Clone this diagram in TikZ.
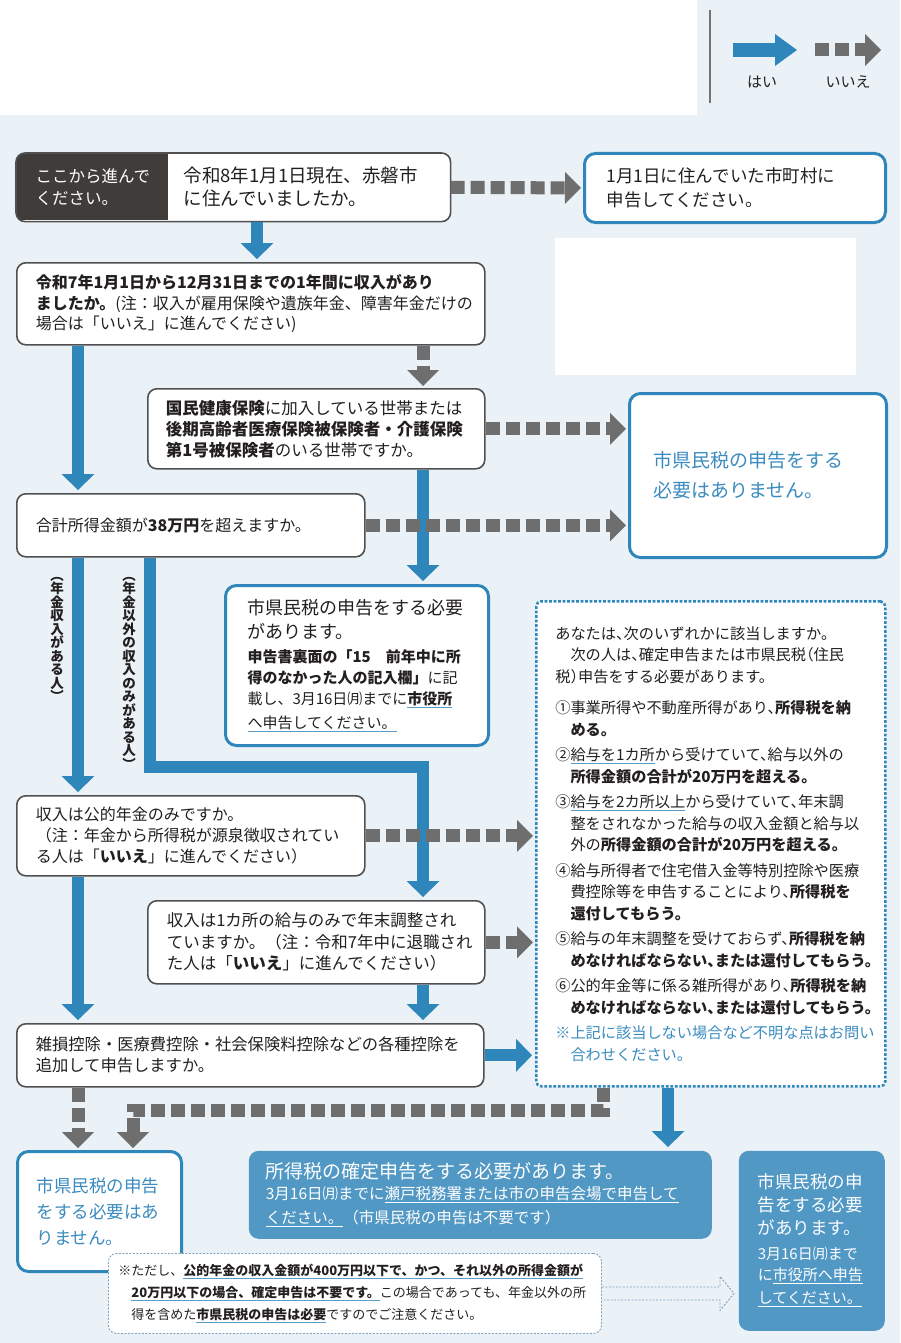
\documentclass[tikz,border=0pt]{standalone}
\usepackage{fontspec}
\setmainfont{Noto Sans CJK JP}
\newfontfamily\haltfont[CharacterWidth=AlternateHalf]{Noto Sans CJK JP}
\usetikzlibrary{arrows.meta,calc,positioning}
\definecolor{bgblue}{RGB}{234,242,247}
\definecolor{yesblue}{RGB}{46,134,186}
\definecolor{nogray}{RGB}{110,110,110}
\definecolor{boxgray}{RGB}{80,80,80}
\definecolor{darkbox}{RGB}{64,60,58}
\definecolor{fillblue}{RGB}{82,152,196}
\definecolor{textblue}{RGB}{58,139,191}
\definecolor{inkblack}{RGB}{35,31,32}
\definecolor{ulblue}{RGB}{91,155,200}
\definecolor{notegray}{RGB}{130,160,185}
\newcommand{\fsz}[2]{\fontsize{#1}{#2}\selectfont}
\newsavebox{\ulbox}
\newcommand{\bul}[2][ulblue]{\leavevmode\sbox{\ulbox}{#2}\rlap{\color{#1}\rule[-3.5pt]{\wd\ulbox}{1.1pt}}\usebox{\ulbox}}
\tikzstyle{qbox} = [draw=boxgray, fill=white, line width=1.6pt, rounded corners=9pt, anchor=north west, align=left, inner xsep=19pt, inner ysep=2pt, text=inkblack]
\tikzstyle{bluebox} = [qbox, draw=yesblue, line width=3pt, rounded corners=11pt]
\tikzstyle{fillbox} = [qbox, draw=none, fill=fillblue, text=white, rounded corners=10pt]
\tikzstyle{infobox} = [qbox, draw=yesblue, line width=2.6pt, dash pattern=on 2.6pt off 1.9pt, rounded corners=5pt]
\tikzstyle{notebox} = [qbox, draw=notegray, line width=0.9pt, dash pattern=on 2pt off 1.5pt, rounded corners=8pt, inner xsep=10pt]
\tikzstyle{yesarrow} = [draw=yesblue, line width=12pt, -{Triangle[width=33pt,length=16pt,line width=0pt]}, shorten >=3pt]
\tikzstyle{noarrow} = [draw=nogray, line width=13pt, dash pattern=on 14pt off 6pt, -{Triangle[width=32pt,length=16pt,line width=0pt]}, shorten >=2pt]
\tikzstyle{vlabel} = [anchor=north, align=center, inner sep=0pt, font=\fsz{13.5}{13.5}\bfseries, text=inkblack]
\tikzstyle{notearrow} = [draw=notegray, line width=0.9pt, dash pattern=on 2pt off 1.5pt]
\begin{document}
\begin{tikzpicture}[x=1pt,y=-1pt]
\fill[bgblue] (0,0) rectangle (900,1343);
\useasboundingbox (0,0) rectangle (900,1343);
\fill[white] (0,0) rectangle (697,115);
\fill[white] (555,238) rectangle (856,375);
\draw[boxgray!80, line width=1.5pt] (710,10) -- (710,103);
\coordinate (lgYa) at (733,50);
\coordinate (lgYb) at (797,50);
\coordinate (lgNa) at (815,50);
\coordinate (lgNb) at (881,50);
\draw[yesarrow, line width=14pt, shorten >=0pt, -{Triangle[width=32pt,length=22pt,line width=0pt]}] (lgYa) -- (lgYb);
\draw[noarrow, shorten >=0pt] (lgNa) -- (lgNb);
\node[font=\fsz{15}{18}, text=inkblack] (lgYes) at (762,82) {はい};
\node[font=\fsz{15}{18}, text=inkblack] (lgNo) at (848,82) {いいえ};

\node[qbox, draw=none, text width=395pt, minimum height=67pt] (q1) at (16,153) {};
\begin{scope}
\clip[rounded corners=9pt] (q1.north west) rectangle (q1.south east);
\fill[darkbox] (q1.north west) rectangle (168,220);
\end{scope}
\draw[boxgray, line width=1.6pt, rounded corners=9pt] (q1.north west) rectangle (q1.south east);
\node[anchor=west, align=left, text=white, font=\fsz{16.5}{22}] (go) at ($(q1.west)+(16,0)$) {ここから進んで\\ください。};
\node[anchor=west, align=left, text=inkblack, font=\fsz{18.5}{23}] (q1t) at (180,186.5) {令和8年1月1日現在、赤磐市\\に住んでいましたか。};
\node[bluebox, text width=257pt, minimum height=69pt, inner xsep=22pt, font=\fsz{17.5}{24}] (r1) at (583,152) {1月1日に住んでいた市町村に\\申告してください。};
\node[qbox, text width=430pt, minimum height=82pt, font=\fsz{16}{20.5}] (q2) at (16,262) {\textbf{令和7年1月1日から12月31日までの1年間に収入があり}\\\textbf{ましたか。}(注：収入が雇用保険や遺族年金、障害年金だけの\\場合は「いいえ」に進んでください)};
\node[qbox, text width=301pt, minimum height=80pt, inner xsep=18pt, font=\fsz{16.5}{21}] (q3) at (147,388) {\textbf{国民健康保険}に加入している世帯または\\\textbf{後期高齢者医療保険被保険者・介護保険}\\\textbf{第1号被保険者}のいる世帯ですか。};
\node[bluebox, text width=209pt, minimum height=164pt, inner xsep=24pt, text=textblue, font=\fsz{19}{30}] (n1) at (628,392) {市県民税の申告をする\\必要はありません。};
\node[qbox, text width=310pt, minimum height=63pt, font=\fsz{16}{21}] (q4) at (16,493) {合計所得金額が\textbf{38万円}を超えますか。};
\node[vlabel] (lab1) at (57,577) {︵\\年\\金\\収\\入\\が\\あ\\る\\人\\︶};
\node[vlabel] (lab2) at (129,577) {︵\\年\\金\\以\\外\\の\\収\\入\\の\\み\\が\\あ\\る\\人\\︶};
\node[bluebox, text width=219pt, minimum height=160pt, inner xsep=22pt, font=\fsz{18}{24}] (y1) at (224,584) {市県民税の申告をする必要\\があります。\par\vspace{3pt}\fsz{15}{21}\textbf{申告書裏面の「15　前年中に所}\\\textbf{得のなかった人の記入欄」}に記\\載し、3月16日㈪までに\bul{\textbf{市役所}}\\\bul{へ申告してください。}};
\node[qbox, text width=310pt, minimum height=80pt, font=\fsz{16}{21}] (q5) at (16,795) {収入は公的年金のみですか。\\（注：年金から所得税が源泉徴収されてい\\る人は「\textbf{いいえ}」に進んでください）};
\node[qbox, text width=299pt, minimum height=83pt, font=\fsz{16.5}{21.5}] (q6) at (147,900) {収入は1カ所の給与のみで年末調整され\\ていますか。（注：令和7年中に退職され\\た人は「\textbf{いいえ}」に進んでください）};
\node[qbox, text width=429pt, minimum height=63pt, font=\fsz{16.3}{21}] (q7) at (16,1023) {雑損控除・医療費控除・社会保険料控除などの各種控除を\\追加して申告しますか。};
\node[infobox, text width=311pt, minimum height=485pt, font=\haltfont\fsz{15.2}{21.5}] (info) at (535,600) {あなたは、次のいずれかに該当しますか。\\　次の人は、確定申告または市県民税（住民\\税）申告をする必要があります。\\[10pt]①事業所得や不動産所得があり、\textbf{所得税を納}\\　\textbf{める。}\\[4pt]②\bul{給与を1カ所}から受けていて、給与以外の\\　\textbf{所得金額の合計が20万円を超える。}\\[4pt]③\bul{給与を2カ所以上}から受けていて、年末調\\　整をされなかった給与の収入金額と給与以\\　外の\textbf{所得金額の合計が20万円を超える。}\\[4pt]④給与所得者で住宅借入金等特別控除や医療\\　費控除等を申告することにより、\textbf{所得税を}\\　\textbf{還付してもらう。}\\[4pt]⑤給与の年末調整を受けておらず、\textbf{所得税を納}\\　\textbf{めなければならない、または還付してもらう。}\\[4pt]⑥公的年金等に係る雑所得があり、\textbf{所得税を納}\\　\textbf{めなければならない、または還付してもらう。}\\[4pt]\textcolor{textblue}{※上記に該当しない場合など不明な点はお問い}\\\textcolor{textblue}{　合わせください。}};
\node[bluebox, text width=126pt, minimum height=120pt, inner xsep=19pt, text=textblue, font=\fsz{17.5}{26}] (n2) at (16,1150) {市県民税の申告\\をする必要はあ\\りません。};
\node[fillbox, text width=429pt, minimum height=88pt, inner xsep=17pt, font=\fsz{19}{24}] (kakutei) at (248,1150) {所得税の確定申告をする必要があります。\par\fsz{15.5}{21}3月16日㈪までに\bul[white]{瀬戸税務署または市の申告会場で申告して}\\\bul[white]{ください。}（市県民税の申告は不要です）};
\node[fillbox, text width=108pt, minimum height=180pt, inner xsep=19pt, font=\fsz{17.5}{23}] (y2) at (738,1150) {市県民税の申\\告をする必要\\があります。\par\vspace{4pt}\fsz{15}{21}3月16日㈪まで\\に\bul[white]{市役所へ申告}\\\bul[white]{してください。}};
\node[notebox, text width=473pt, minimum height=80pt, font=\fsz{13}{22}] (note) at (108,1253) {※ただし、\bul{\textbf{公的年金の収入金額が400万円以下で、かつ、それ以外の所得金額が}}\\　\bul{\textbf{20万円以下の場合、確定申告は不要です。}}この場合であっても、年金以外の所\\　得を含めた\bul{\textbf{市県民税の申告は必要}}ですのでご注意ください。};
\draw[notearrow] ($(note.east)+(0,-6.5)$) -- ($(y2.west|-note.east)+(-18,-6.5)$) -- ($(y2.west|-note.east)+(-18,-17)$) -- ($(y2.west|-note.east)+(-4,0)$) -- ($(y2.west|-note.east)+(-18,17)$) -- ($(y2.west|-note.east)+(-18,6.5)$) -- ($(note.east)+(0,6.5)$);

\coordinate (colA) at (78,0);
\coordinate (colB) at (150,0);
\coordinate (colC) at (423,0);
\coordinate (colD) at (257,0);
\coordinate (colE) at (603,0);
\coordinate (colF) at (133,0);
\coordinate (colG) at (668,0);
\coordinate (turnA) at (0,767);
\coordinate (turnB) at (0,1110);
\draw[noarrow] (q1.east) -- (r1.west);
\draw[yesarrow] (q1.south -| colD) -- (q2.north -| colD);
\draw[yesarrow] (q2.south -| colA) -- (q4.north -| colA);
\draw[noarrow] (q2.south -| colC) -- (q3.north -| colC);
\draw[noarrow] (q3.east) -- (q3.east -| n1.west);
\draw[yesarrow] (q3.south -| colC) -- (y1.north -| colC);
\draw[noarrow] (q4.east) -- (q4.east -| n1.west);
\draw[yesarrow] (q4.south -| colA) -- (q5.north -| colA);
\draw[yesarrow] (q4.south -| colB) -- (colB |- turnA) -- (colC |- turnA) -- (q6.north -| colC);
\draw[noarrow] (q5.east) -- (q5.east -| info.west);
\draw[noarrow] (q6.east) -- (q6.east -| info.west);
\draw[yesarrow] (q5.south -| colA) -- (q7.north -| colA);
\draw[yesarrow] (q6.south -| colC) -- (q7.north -| colC);
\draw[yesarrow] (q7.east) -- (q7.east -| info.west);
\draw[noarrow] (q7.south -| colA) -- (n2.north -| colA);
\draw[noarrow] (info.south -| colE) -- (colE |- turnB) -- (colF |- turnB) -- (n2.north -| colF);
\draw[yesarrow] (info.south -| colG) -- (kakutei.north -| colG);
\end{tikzpicture}
\end{document}
